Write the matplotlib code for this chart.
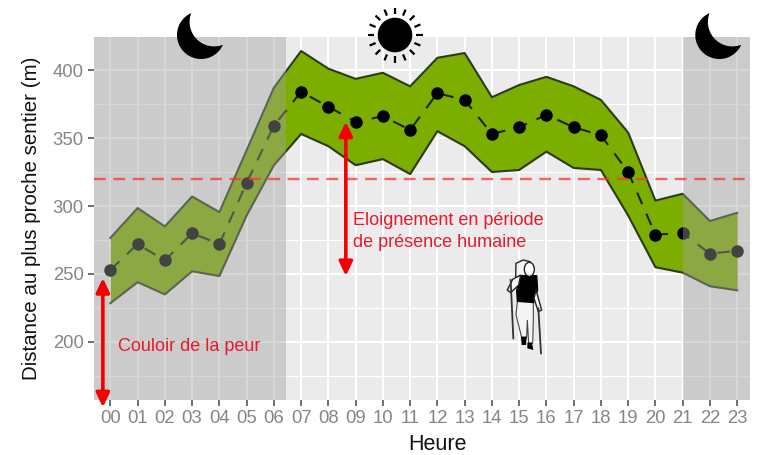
import numpy as np
import matplotlib
matplotlib.use("Agg")
import matplotlib.pyplot as plt
from matplotlib.patches import FancyArrowPatch, Polygon, Ellipse, Circle

hours = list(range(24))
hour_labels = [f"{h:02d}" for h in hours]
upper = [276.5, 298.5, 285, 307, 295.5, 341, 387, 414, 401, 393.5, 398, 388, 409, 412.5, 380, 389, 395, 388, 378, 354, 304, 309, 289, 295]
mean = [253, 272, 260, 280, 272, 317, 359, 384, 373, 362, 366, 356, 383, 378, 353, 358, 367, 358, 352, 325, 279, 280, 265, 267]
lower = [228.5, 244, 235, 252, 248.5, 293, 330, 353, 344, 330, 334.5, 323.5, 355, 344, 325, 326.5, 340, 328, 326.5, 293, 255, 251, 241, 238]
threshold = 320
night_spans = [(-0.6, 6.45), (21.0, 23.5)]
y_ticks = [200, 250, 300, 350, 400]
y_minor = [175, 225, 275, 325, 375]

plt.rcParams['font.family'] = ['Liberation Sans', 'DejaVu Sans']
fig = plt.figure(figsize=(7.62, 4.55), dpi=100)
W, H = 762, 455
L, R, T, B = 94, 750, 37, 399.5
ax = fig.add_axes([L / W, 1 - B / H, (R - L) / W, (B - T) / H])
ax.set_xlim(-0.6, 23.47)
ax.set_ylim(157.7, 424.3)
ax.set_facecolor('#ebebeb')
for s in ax.spines.values():
    s.set_visible(False)
ax.set_axisbelow(True)
ax.set_xticks(hours)
ax.set_xticklabels(hour_labels)
ax.set_yticks(y_ticks)
ax.set_yticks(y_minor, minor=True)
ax.grid(True, which='major', color='white', lw=1.5)
ax.grid(True, which='minor', axis='y', color='white', lw=0.8)
ax.tick_params(axis='both', which='major', length=4, width=1.2, color='#555555',
               labelcolor='#858585', labelsize=13.3, pad=3.5)
ax.tick_params(axis='y', which='minor', length=0)
ax.set_xlabel('Heure', fontsize=15.5, color='#111111')
ax.xaxis.set_label_coords((437 - L) / (R - L), -(433.5 - B) / (B - T), transform=ax.transAxes)
ax.set_ylabel('Distance au plus proche sentier (m)', fontsize=14.8, color='#111111', labelpad=8)

ax.fill_between(hours, lower, upper, color='#7cae00', lw=0, zorder=2)
ax.plot(hours, upper, color='#2b3a1a', lw=1.5, zorder=3)
ax.plot(hours, lower, color='#2b3a1a', lw=1.5, zorder=3)
ax.plot(hours, mean, color='#1a2410', lw=1.5, ls=(0, (6, 5)), zorder=4)
ax.plot(hours, mean, ls='none', marker='o', ms=8, color='black', zorder=5)
for a, b in night_spans:
    ax.axvspan(a, b, color='#a0a0a0', alpha=0.42, lw=0, zorder=6)
ax.axhline(threshold, color='#ff3333', lw=1.7, ls=(0, (5, 3.2)), alpha=0.75, zorder=7)

for x, y0, y1 in [(-0.275, 247, 152), (8.64, 362, 248.5)]:
    ax.add_patch(FancyArrowPatch((x, y0), (x, y1), arrowstyle='<|-|>,head_length=0.42,head_width=0.2',
                                 mutation_scale=20, color='#f40000', lw=2.6,
                                 shrinkA=0, shrinkB=0, clip_on=False, zorder=8))
ax.text(0.28, 196.5, 'Couloir de la peur', color='#e8182c', fontsize=13, va='center', zorder=9)
ax.text(8.9, 289.7, 'Eloignement en période', color='#e8182c', fontsize=13, va='center', zorder=9)
ax.text(8.9, 273.5, 'de présence humaine', color='#e8182c', fontsize=13, va='center', zorder=9)

# Decorative icons, in picture pixels
ov = fig.add_axes([0, 0, 1, 1], facecolor='none')
ov.set_xlim(0, W)
ov.set_ylim(H, 0)
ov.axis('off')


def moon(dx):
    cx, cy, r = 201, 35, 24
    ix, iy, ir = 214.1, 21.9, 24.5
    tip_a = (191.7, 13)
    tip_b = (222.7, 45)
    a0 = np.arctan2(tip_a[1] - cy, tip_a[0] - cx)
    a1 = np.arctan2(tip_b[1] - cy, tip_b[0] - cx) - 2 * np.pi
    pts = [(cx + dx + r * np.cos(t), cy + r * np.sin(t)) for t in np.linspace(a0, a1, 80)]
    b0 = np.arctan2(tip_b[1] - iy, tip_b[0] - ix)
    b1 = np.arctan2(tip_a[1] - iy, tip_a[0] - ix)
    if b1 < b0:
        b1 += 2 * np.pi
    pts += [(ix + dx + ir * np.cos(t), iy + ir * np.sin(t)) for t in np.linspace(b0, b1, 50)]
    ov.add_patch(Polygon(pts, closed=True, color='black', lw=0))


moon(0)
moon(518.3)

sx, sy = 395, 35
ov.add_patch(Circle((sx, sy), 17.3, color='black', lw=0))
for t in np.linspace(0, 2 * np.pi, 16, endpoint=False):
    ov.plot([sx + 21 * np.cos(t), sx + 27.5 * np.cos(t)],
            [sy + 21 * np.sin(t), sy + 27.5 * np.sin(t)], color='black', lw=1.6, solid_capstyle='butt')


def hk(pts):
    return [(470 + x / 3, 240 + y / 3) for x, y in pts]


ov.plot(*zip(*hk([(122, 120), (130, 295)])), color='#333333', lw=1.3)
ov.plot(*zip(*hk([(205, 205), (213, 340)])), color='#333333', lw=1.3)
ov.add_patch(Polygon(hk([(137, 110), (138, 70), (160, 60), (180, 65), (180, 110)]), closed=True,
                     fc='#f4f4f4', ec='#222222', lw=1))
ov.add_patch(Polygon(hk([(142, 185), (138, 225), (155, 292), (170, 292), (172, 240), (176, 310), (188, 310),
                         (190, 240), (190, 185)]), closed=True, fc='#f4f4f4', ec='#444444', lw=0.8))
ov.add_patch(Polygon(hk([(150, 105), (202, 105), (205, 150), (192, 190), (140, 185), (138, 150)]), closed=True,
                     fc='black', lw=0))
ov.add_patch(Polygon(hk([(152, 105), (128, 118), (112, 150), (122, 158), (146, 135)]), closed=True,
                     fc='#f4f4f4', ec='#222222', lw=1))
ov.add_patch(Polygon(hk([(198, 150), (192, 175), (205, 215), (215, 210)]), closed=True,
                     fc='#f4f4f4', ec='#222222', lw=1))
ov.add_patch(Ellipse((470 + 178 / 3, 240 + 88 / 3), 10, 14, fc='white', ec='#222222', lw=1))
ov.add_patch(Polygon(hk([(153, 290), (170, 290), (168, 315), (155, 315)]), closed=True, fc='black', lw=0))
ov.add_patch(Polygon(hk([(172, 308), (186, 308), (190, 330), (172, 325)]), closed=True, fc='black', lw=0))

fig.savefig('out.png', dpi=100)
